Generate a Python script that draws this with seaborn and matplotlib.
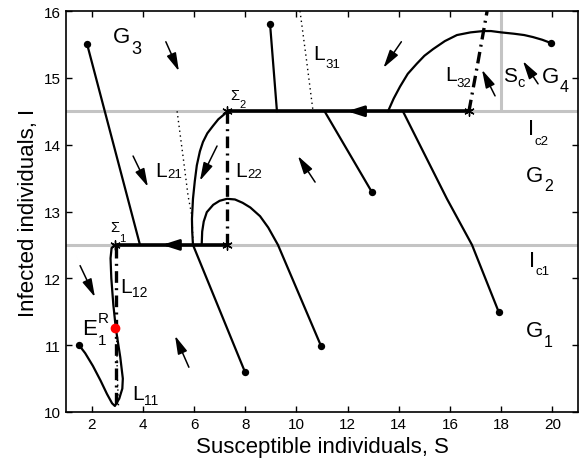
import matplotlib
matplotlib.use("Agg")
import matplotlib.pyplot as plt
import seaborn as sns
import numpy as np
import pandas as pd

# ---------------- data ----------------
# thresholds
S_c = 18.0
I_c1 = 12.5
I_c2 = 14.5

# trajectories (S, I) - first point is the initial condition (dot)
traj1_S = [1.82, 3.89]
traj1_I = [15.51, 12.5]
traj2_S = [8.97, 9.24]
traj2_I = [15.81, 14.5]
traj3_S = [19.95, 19.6, 19.24, 18.9, 18.5, 18.0, 17.6, 17.3, 16.8, 16.27, 15.8, 15.34,
           15.0, 14.7, 14.35, 14.05, 13.8, 13.58]
traj3_I = [15.52, 15.57, 15.61, 15.64, 15.66, 15.68, 15.70, 15.70, 15.68, 15.64, 15.55, 15.43,
           15.33, 15.21, 15.06, 14.87, 14.69, 14.5]
traj4_S = [12.95, 11.1]
traj4_I = [13.29, 14.5]
traj5_S = [17.9, 16.86, 15.88, 14.16]
traj5_I = [11.5, 12.5, 13.19, 14.5]
traj6_S = [10.96, 9.28, 8.9, 8.58, 8.2, 7.9, 7.6, 7.29, 7.0, 6.75, 6.5, 6.38, 6.32, 6.3]
traj6_I = [10.99, 12.5, 12.76, 12.93, 13.06, 13.13, 13.18, 13.19, 13.16, 13.1, 12.99, 12.85, 12.7, 12.5]
traj7_S = [7.99, 5.96, 5.93, 5.92, 5.96, 6.03, 6.11, 6.23, 6.35, 6.52, 6.74, 6.95, 7.2, 7.3]
traj7_I = [10.6, 12.5, 12.7, 12.89, 13.19, 13.45, 13.69, 13.9, 14.04, 14.17, 14.28, 14.38, 14.46, 14.5]
traj8_S = [1.51, 1.75, 2.05, 2.35, 2.6, 2.8, 2.91, 3.08, 3.2, 3.22, 3.12, 2.95, 2.85, 2.77, 2.74, 2.78, 2.9]
traj8_I = [11.0, 10.88, 10.69, 10.47, 10.27, 10.13, 10.09, 10.2, 10.35, 10.5, 10.82, 11.24, 11.6, 12.0, 12.3, 12.45, 12.5]

# sliding segments on the thresholds
slide1_S = [2.9, 7.3]
slide2_S = [7.3, 16.74]

# switching lines
L12_S = [2.95, 2.95]
L12_I = [10.12, 12.5]
L11_S = [3.05, 3.0, 2.98]
L11_I = [10.1, 10.6, 11.2]
L22_S = [7.3, 7.3]
L22_I = [12.5, 14.5]
L32_S = [16.74, 17.1, 17.45]
L32_I = [14.5, 15.25, 16.0]
L21_S = [5.34, 5.57, 5.77, 5.92, 5.96]
L21_I = [14.5, 13.83, 13.23, 12.93, 12.55]
L31_S = [10.14, 10.4, 10.65]
L31_I = [16.0, 15.25, 14.5]

# equilibrium E1^R
E1R = (2.93, 11.25)
# sliding-mode endpoints (asterisks)
star_S = [2.9, 7.3, 7.3, 16.74]
star_I = [12.5, 12.5, 14.5, 14.5]

# direction-field arrows: (S0, I0, S1, I1)
arrows = [
    (4.9, 15.54, 5.41, 15.1),
    (3.62, 13.83, 4.2, 13.37),
    (6.9, 13.98, 6.23, 13.46),
    (10.73, 13.44, 10.06, 13.83),
    (14.1, 15.54, 13.4, 15.15),
    (17.76, 14.73, 17.25, 15.12),
    (19.44, 14.91, 18.85, 15.25),
    (1.55, 12.19, 2.13, 11.72),
    (5.8, 10.67, 5.26, 11.14),
]
slide_arrow_tips = [(4.75, 12.5), (11.98, 14.5)]

# labels: (S, I baseline, main, sub, sup, main size, script size, sub drop px)
labels = [
    (2.85, 15.53, "G", "3", None, 16, 13, 10),
    (19.6, 14.94, "G", "4", None, 16, 11.5, 8),
    (18.98, 13.46, "G", "2", None, 16, 11.5, 9),
    (18.98, 11.14, "G", "1", None, 16, 11.5, 10),
    (19.05, 14.16, "I", "c2", None, 16, 9.5, 10),
    (19.1, 12.19, "I", "c1", None, 16, 9.5, 8),
    (18.07, 14.96, "S", "c", None, 15, 10.5, 6),
    (15.8, 14.97, "L", "32", None, 15, 9.5, 7),
    (10.65, 15.28, "L", "31", None, 15, 9.5, 8),
    (4.48, 13.53, "L", "21", None, 15, 9.5, 1.5),
    (7.6, 13.53, "L", "22", None, 15, 9.5, 2),
    (3.11, 11.8, "L", "12", None, 15, 10, 5),
    (3.58, 10.19, "L", "11", None, 15, 10, 5),
    (1.63, 11.17, "E", "1", "R", 16, 11, 10),
    (2.72, 12.71, "Σ", "1", None, 10.5, 8, 10),
    (7.4, 14.69, "Σ", "2", None, 10.5, 8, 8),
]

# ---------------- plotting ----------------
sns.set_style("ticks")
plt.rcParams["font.family"] = ["Liberation Sans", "DejaVu Sans"]
plt.rcParams.update({"axes.edgecolor": "black", "xtick.color": "black", "ytick.color": "black",
                     "text.color": "black", "axes.labelcolor": "black"})

fig = plt.figure(figsize=(5.82, 4.64), dpi=100)
ax = fig.add_axes([66 / 582, 1 - 413 / 464, (578 - 66) / 582, (413 - 12) / 464])

gray = "#c4c4c4"
ax.axhline(I_c1, color=gray, lw=2.2, zorder=1)
ax.axhline(I_c2, color=gray, lw=2.2, zorder=1)
ax.plot([S_c, S_c], [I_c2, 16], color=gray, lw=2.2, zorder=1)

# switching lines
ax.plot(L21_S, L21_I, color="black", lw=1.0, ls=(0, (1, 2.5)), zorder=2)
ax.plot(L31_S, L31_I, color="black", lw=1.0, ls=(0, (1, 2.5)), zorder=2)
ax.plot(L11_S, L11_I, color="black", lw=1.0, ls=(0, (1, 2.5)), zorder=2)
for xs, ys in [(L12_S, L12_I), (L22_S, L22_I), (L32_S, L32_I)]:
    ax.plot(xs, ys, color="black", lw=2.4, ls=(0, (3.5, 1.6, 0.6, 1.6)), zorder=2)

# trajectories via seaborn
trajs = [(traj1_S, traj1_I), (traj2_S, traj2_I), (traj3_S, traj3_I), (traj4_S, traj4_I),
         (traj5_S, traj5_I), (traj6_S, traj6_I), (traj7_S, traj7_I), (traj8_S, traj8_I)]
for xs, ys in trajs:
    df = pd.DataFrame({"S": xs, "I": ys})
    sns.lineplot(data=df, x="S", y="I", sort=False, estimator=None, color="black",
                 lw=1.6, ax=ax, zorder=3)
starts = pd.DataFrame({"S": [t[0][0] for t in trajs], "I": [t[1][0] for t in trajs]})
sns.scatterplot(data=starts, x="S", y="I", color="black", s=28, edgecolor="black",
                linewidth=0, ax=ax, zorder=4)

# sliding segments
ax.plot(slide1_S, [I_c1, I_c1], color="black", lw=2.6, zorder=3, solid_capstyle="butt")
ax.plot(slide2_S, [I_c2, I_c2], color="black", lw=2.6, zorder=3, solid_capstyle="butt")
for (s, i) in slide_arrow_tips:
    ax.annotate("", xy=(s, i), xytext=(s + 0.6, i),
                arrowprops=dict(arrowstyle="-|>,head_length=1.0,head_width=0.32",
                                color="black", lw=2.0, shrinkA=0, shrinkB=0), zorder=5)

# asterisks
ax.scatter(star_S, star_I, marker=(6, 2, 0), s=45, color="black", linewidths=1.0, zorder=5)
ax.plot([E1R[0]], [E1R[1]], "o", color="red", ms=6, zorder=6)

for (s0, i0, s1, i1) in arrows:
    ax.annotate("", xy=(s1, i1), xytext=(s0, i0),
                arrowprops=dict(arrowstyle="-|>,head_length=1.1,head_width=0.3",
                                color="black", lw=1.1, shrinkA=0, shrinkB=0), zorder=5)

PX = 72 / 100  # points per pixel
for (s, i, main, sub, sup, fs, sfs, drop) in labels:
    t = ax.text(s, i, main, fontsize=fs, ha="left", va="baseline", zorder=7)
    # bbox bottom of main text lies one descent below its baseline
    d_main = 0.212 * fs
    d_sub = 0.212 * sfs
    if sub:
        ax.annotate(sub, xy=(1, 0), xycoords=t, xytext=(0.3, d_main - d_sub - drop * PX),
                    textcoords="offset points", fontsize=sfs, ha="left", va="bottom", zorder=7)
    if sup:
        ax.annotate(sup, xy=(1, 0), xycoords=t, xytext=(0.3, d_main - d_sub + 12 * PX),
                    textcoords="offset points", fontsize=sfs, ha="left", va="bottom", zorder=7)

ax.set_xlim(1, 21)
ax.set_ylim(10, 16)
ax.set_xticks(np.arange(2, 21, 2))
ax.set_yticks(np.arange(10, 17, 1))
ax.tick_params(direction="in", top=True, right=True, labelsize=11, length=4, width=1)
for sp in ax.spines.values():
    sp.set_visible(True)
    sp.set_linewidth(1.2)
ax.set_xlabel("Susceptible individuals, S", fontsize=16, labelpad=4)
ax.set_ylabel("Infected individuals, I", fontsize=16, labelpad=4)

fig.savefig("out.png", dpi=100)
